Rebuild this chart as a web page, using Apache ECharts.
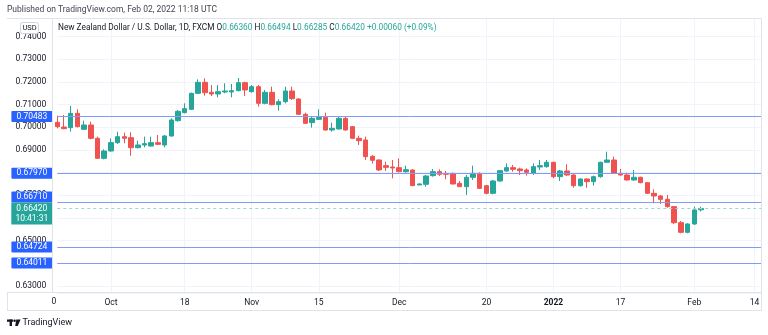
<!DOCTYPE html>
<html><head><meta charset="utf-8">
<script src="https://cdn.jsdelivr.net/npm/echarts@6/dist/echarts.min.js"></script>
<style>html,body{margin:0;padding:0;background:#fff}#c{width:768px;height:335px}</style>
</head><body><div id="c"></div>
<script>
const dates = [
'2021-09-21','2021-09-22','2021-09-23','2021-09-24','2021-09-27','2021-09-28','2021-09-29','2021-09-30',
'2021-10-01','2021-10-04','2021-10-05','2021-10-06','2021-10-07','2021-10-08','2021-10-11','2021-10-12','2021-10-13','2021-10-14','2021-10-15','2021-10-18','2021-10-19','2021-10-20','2021-10-21','2021-10-22','2021-10-25','2021-10-26','2021-10-27','2021-10-28','2021-10-29',
'2021-11-01','2021-11-02','2021-11-03','2021-11-04','2021-11-05','2021-11-08','2021-11-09','2021-11-10','2021-11-11','2021-11-12','2021-11-15','2021-11-16','2021-11-17','2021-11-18','2021-11-19','2021-11-22','2021-11-23','2021-11-24','2021-11-25','2021-11-26','2021-11-29','2021-11-30',
'2021-12-01','2021-12-02','2021-12-03','2021-12-06','2021-12-07','2021-12-08','2021-12-09','2021-12-10','2021-12-13','2021-12-14','2021-12-15','2021-12-16','2021-12-17','2021-12-20','2021-12-21','2021-12-22','2021-12-23','2021-12-24','2021-12-27','2021-12-28','2021-12-29','2021-12-30','2021-12-31',
'2022-01-03','2022-01-04','2022-01-05','2022-01-06','2022-01-07','2022-01-10','2022-01-11','2022-01-12','2022-01-13','2022-01-14','2022-01-17','2022-01-18','2022-01-19','2022-01-20','2022-01-21','2022-01-24','2022-01-25','2022-01-26','2022-01-27','2022-01-28','2022-01-31',
'2022-02-01','2022-02-02','2022-02-03','2022-02-04','2022-02-07','2022-02-08','2022-02-09','2022-02-10','2022-02-11','2022-02-14','2022-02-15'];

const opens = [0.70221,0.70015,0.69986,0.70618,0.69912,0.70103,0.69515,0.68632,0.68956,0.69324,
0.69588,0.69544,0.69103,0.69221,0.69177,0.69324,0.69221,0.69618,0.70295,0.70648,
0.70795,0.71501,0.71986,0.71545,0.71471,0.71560,0.71560,0.71618,0.71971,0.71574,
0.71795,0.71059,0.71545,0.71001,0.71133,0.71604,0.71251,0.70574,0.70206,0.70354,
0.70442,0.69883,0.69927,0.70398,0.70030,0.69515,0.69441,0.68720,0.68559,0.68309,
0.68250,0.68221,0.68044,0.68118,0.67456,0.67485,0.67867,0.68044,0.67970,0.67970,
0.67529,0.67382,0.67794,0.67970,0.67426,0.67088,0.67632,0.68073,0.68221,0.68162,
0.68118,0.67970,0.68250,0.68265,0.68456,0.67823,0.68073,0.67897,0.67426,0.67720,
0.67603,0.67823,0.68456,0.68559,0.67970,0.67897,0.67676,0.67794,0.67559,0.67088,
0.66970,0.66823,0.66500,0.65793,0.65367,0.65735,0.66360];
const closes = [0.70030,0.69941,0.70618,0.70030,0.70103,0.69515,0.68632,0.68956,0.69324,0.69588,
0.69515,0.69103,0.69221,0.69280,0.69324,0.69250,0.69618,0.70324,0.70706,0.70824,
0.71501,0.71986,0.71530,0.71471,0.71574,0.71604,0.71618,0.71971,0.71648,0.71795,
0.71059,0.71545,0.71001,0.71133,0.71604,0.71265,0.70574,0.70177,0.70398,0.70442,
0.69883,0.69956,0.70398,0.69883,0.69515,0.69412,0.68706,0.68545,0.68118,0.68235,
0.68206,0.68044,0.68132,0.67426,0.67500,0.67853,0.68044,0.67926,0.67926,0.67500,
0.67382,0.67794,0.67970,0.67308,0.67088,0.67632,0.68088,0.68221,0.68147,0.68088,
0.68015,0.68265,0.68309,0.68456,0.67823,0.68073,0.67897,0.67426,0.67720,0.67603,
0.67823,0.68456,0.68559,0.67970,0.67897,0.67676,0.67794,0.67559,0.67088,0.66970,
0.66823,0.66500,0.65793,0.65367,0.65735,0.66352,0.66420];
const lows = [0.69956,0.69912,0.69809,0.70000,0.69883,0.69471,0.68618,0.68588,0.68927,0.69265,
0.69294,0.68750,0.69074,0.69118,0.69147,0.69221,0.69118,0.69588,0.70251,0.70618,
0.70765,0.71471,0.71398,0.71383,0.71324,0.71501,0.71324,0.71589,0.71383,0.71530,
0.70912,0.71015,0.70971,0.70736,0.71059,0.71207,0.70545,0.70147,0.69986,0.70324,
0.69853,0.69809,0.69912,0.69853,0.69486,0.69221,0.68559,0.68400,0.68073,0.68073,
0.67750,0.68015,0.68000,0.67411,0.67456,0.67382,0.67823,0.67853,0.67706,0.67485,
0.67382,0.67014,0.67676,0.67279,0.67044,0.67044,0.67603,0.68044,0.68044,0.67897,
0.67867,0.67897,0.68118,0.68221,0.67750,0.67632,0.67867,0.67338,0.67382,0.67338,
0.67426,0.67779,0.68456,0.67941,0.67867,0.67647,0.67647,0.67529,0.67059,0.66647,
0.66617,0.66455,0.65735,0.65323,0.65323,0.65691,0.66285];
const highs = [0.70515,0.70545,0.70942,0.70795,0.70295,0.70251,0.69588,0.69030,0.69515,0.69809,
0.69765,0.69780,0.69412,0.69588,0.69588,0.69662,0.69662,0.70398,0.70765,0.71059,
0.71530,0.72118,0.72163,0.71868,0.71868,0.71942,0.71913,0.72177,0.72015,0.71868,
0.71868,0.71648,0.71795,0.71236,0.71795,0.71795,0.71280,0.70648,0.70471,0.70795,
0.70648,0.70206,0.70501,0.70471,0.70059,0.69633,0.69588,0.68779,0.68588,0.68485,
0.68559,0.68632,0.68309,0.68147,0.67529,0.67897,0.68162,0.68147,0.68073,0.68000,
0.67632,0.67897,0.68309,0.68015,0.67456,0.67676,0.68118,0.68412,0.68338,0.68221,
0.68191,0.68412,0.68559,0.68559,0.68485,0.68118,0.68368,0.67926,0.67750,0.67750,
0.67867,0.68485,0.68927,0.68706,0.68162,0.68000,0.68118,0.67823,0.67559,0.67264,
0.67014,0.67014,0.66529,0.65867,0.65764,0.66500,0.66494];

const priceLines = [0.70483, 0.67970, 0.66710, 0.64724, 0.64011];
const lastPrice = 0.66420;
const lastTime = '10:41:31';
const xTickDates = ['2021-10-01','2021-10-18','2021-11-01','2021-11-15','2021-12-01','2021-12-20','2022-01-03','2022-01-17','2022-02-01','2022-02-14'];
const xTickLabels = ['Oct','18','Nov','15','Dec','20','2022','17','Feb','14'];
const publishedText = 'Published on TradingView.com, Feb 02, 2022 11:18 UTC';
const symbolTitle = 'New Zealand Dollar / U.S. Dollar, 1D, FXCM';
const ohlcNames = ['O','H','L','C'];
const ohlcValues = ['0.66360','0.66494','0.66285','0.66420'];
const changeText = '+0.00060 (+0.09%)';
const currencyText = 'USD';
const brandText = 'TradingView';
const cutLabel = '0';

const UP = '#26a69a', DOWN = '#ef5350', LINE = '#7f9df6', BORDER = '#e0e3eb', TXT = '#131722';
const FONT = 'Roboto, sans-serif';

const candleData = opens.map((o, i) => [o, closes[i], lows[i], highs[i]]);
const tickMap = {};
xTickDates.forEach((d, i) => { tickMap[d] = xTickLabels[i]; });
const isTick = (idx, val) => tickMap[val] !== undefined;

const lineItems = priceLines.map(v => ({
  yAxis: v,
  lineStyle: { color: LINE, width: 1, type: 'solid' },
  label: {
    show: true, position: 'start', distance: 5,
    formatter: () => v.toFixed(5),
    color: '#fff', backgroundColor: '#2962ff', padding: [1, 5, 0, 5],
    fontSize: 8.5, lineHeight: 10, fontFamily: FONT, borderRadius: 1,
    offset: v === 0.66710 ? [0, -5] : [0, 0]
  }
}));
lineItems.push({
  yAxis: lastPrice,
  lineStyle: { color: '#9ad8d1', width: 1, type: [3, 3] },
  label: {
    show: true, position: 'start', distance: 5,
    formatter: () => '{a|' + lastPrice.toFixed(5) + '}\n{a|' + lastTime + '}',
    backgroundColor: UP, padding: [1, 4, 1, 4],
    rich: { a: { width: 33, align: 'center', color: '#fff', fontSize: 8.5, lineHeight: 10, fontFamily: FONT } },
    offset: [0, 5]
  }
});

const titleRich = '{t|' + symbolTitle + '} ' +
  ohlcNames.map((n, i) => '{l|' + n + '}{v|' + ohlcValues[i] + '}').join(' ') +
  ' {v|' + changeText + '}';

const chart = echarts.init(document.getElementById('c'), null, { renderer: 'canvas' });
chart.setOption({
  animation: false,
  backgroundColor: '#fff',
  textStyle: { fontFamily: FONT },
  grid: { left: 57.3, right: 6.7, top: 18, bottom: 42 },
  xAxis: {
    type: 'category', data: dates, boundaryGap: false,
    axisLine: { show: false }, axisTick: { show: false },
    axisLabel: {
      interval: isTick, margin: 5, color: TXT, fontSize: 8.5, fontFamily: FONT,
      formatter: (val) => {
        const t = tickMap[val];
        return t === '2022' ? '{b|' + t + '}' : t;
      },
      rich: { b: { fontWeight: 'bold', fontSize: 8.5, color: TXT, fontFamily: FONT } }
    },
    splitLine: { show: true, interval: isTick, lineStyle: { color: '#f0f3fa', width: 1 } }
  },
  yAxis: {
    type: 'value', min: 0.62689, max: 0.74825, splitNumber: 12, scale: true,
    axisLine: { show: false }, axisTick: { show: false },
    axisLabel: {
      showMinLabel: false, showMaxLabel: false, margin: 11,
      color: TXT, fontSize: 8.5, fontFamily: FONT,
      formatter: (v) => v.toFixed(5)
    },
    splitLine: { show: true, lineStyle: { color: '#f0f3fa', width: 1 } }
  },
  series: [{
    type: 'candlestick',
    data: candleData,
    barWidth: 5,
    clip: false,
    itemStyle: { color: UP, color0: DOWN, borderColor: UP, borderColor0: DOWN, borderWidth: 1 },
    markLine: {
      silent: true, symbol: ['none', 'none'], animation: false, precision: 5,
      data: lineItems
    }
  }],
  graphic: [
    { type: 'line', z: 50, shape: { x1: 7, y1: 18.5, x2: 761, y2: 18.5 }, style: { stroke: BORDER, lineWidth: 1 } },
    { type: 'line', z: 50, shape: { x1: 761.5, y1: 18, x2: 761.5, y2: 311 }, style: { stroke: BORDER, lineWidth: 1 } },
    { type: 'line', z: 50, shape: { x1: 7, y1: 310.5, x2: 761, y2: 310.5 }, style: { stroke: BORDER, lineWidth: 1 } },
    { type: 'line', z: 50, shape: { x1: 7, y1: 292.5, x2: 761, y2: 292.5 }, style: { stroke: BORDER, lineWidth: 1 } },
    { type: 'line', z: 50, shape: { x1: 7.5, y1: 292.5, x2: 7.5, y2: 311 }, style: { stroke: BORDER, lineWidth: 1 } },
    { type: 'line', z: 50, shape: { x1: 52.5, y1: 18, x2: 52.5, y2: 293 }, style: { stroke: BORDER, lineWidth: 1 } },
    { type: 'text', z: 60, x: 51.5, y: 302, style: { text: cutLabel, fill: TXT, font: '8.5px ' + FONT, textVerticalAlign: 'middle', textAlign: 'left' } },
    { type: 'text', z: 60, x: 7, y: 10, style: { text: publishedText, fill: '#434651', font: '8.5px ' + FONT, textVerticalAlign: 'middle' } },
    { type: 'text', z: 60, x: 58, y: 28, style: {
        text: titleRich, font: '8.3px ' + FONT, textVerticalAlign: 'middle',
        rich: { t: { fill: TXT, font: '8.3px ' + FONT }, l: { fill: TXT, font: '8.3px ' + FONT }, v: { fill: UP, font: '8.3px ' + FONT } }
      } },
    { type: 'rect', z: 60, shape: { x: 20.5, y: 22.5, width: 18, height: 11, r: 2 }, style: { fill: '#fff', stroke: '#d1d4dc', lineWidth: 1 } },
    { type: 'text', z: 61, x: 29.5, y: 28.2, style: { text: currencyText, fill: TXT, font: '7.5px ' + FONT, textAlign: 'center', textVerticalAlign: 'middle' } },
    { type: 'rect', z: 60, shape: { x: 7, y: 319.5, width: 6, height: 2.3 }, style: { fill: TXT } },
    { type: 'rect', z: 60, shape: { x: 9.6, y: 319.5, width: 2.4, height: 6.5 }, style: { fill: TXT } },
    { type: 'circle', z: 60, shape: { cx: 14.6, cy: 320.7, r: 1.25 }, style: { fill: TXT } },
    { type: 'polygon', z: 60, shape: { points: [[16.3, 319.5], [20.6, 319.5], [17.8, 326], [15.2, 326]] }, style: { fill: TXT } },
    { type: 'text', z: 60, x: 22.5, y: 323, style: { text: brandText, fill: TXT, font: '9px ' + FONT, textVerticalAlign: 'middle' } }
  ]
});
</script>
</body></html>
